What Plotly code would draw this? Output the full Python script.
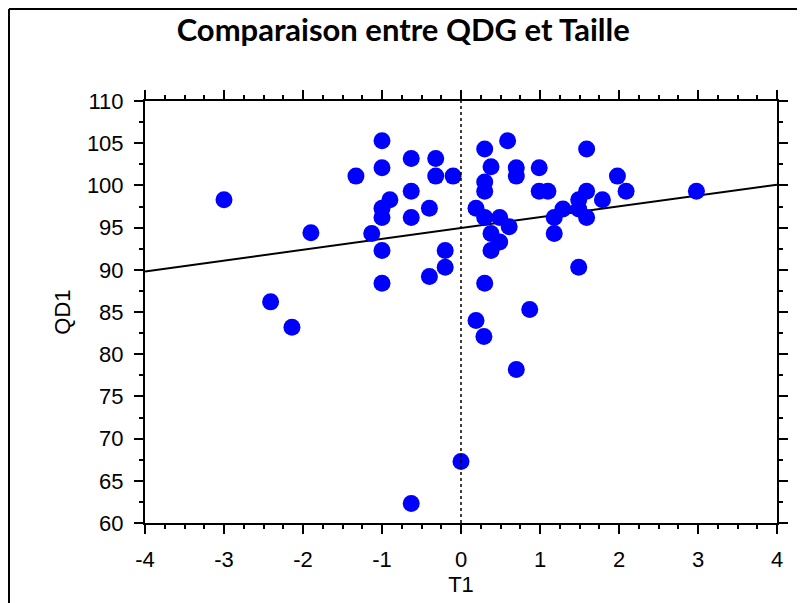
import numpy as np
import plotly.graph_objects as go

T1 = [-3.0, -2.41, -2.14, -1.9, -1.33, -1.13,
      -1.0, -1.0, -1.0, -1.0, -1.0, -1.0,
      -0.9, -0.63, -0.63, -0.63, -0.63,
      -0.4, -0.4, -0.32, -0.32, -0.2, -0.2, -0.1, 0.0,
      0.19, 0.19, 0.29, 0.30, 0.30, 0.30, 0.30, 0.30,
      0.38, 0.38, 0.38, 0.49, 0.49, 0.59, 0.61,
      0.70, 0.70, 0.70, 0.87, 0.99, 0.99, 1.10,
      1.18, 1.18, 1.29, 1.49, 1.49, 1.49,
      1.59, 1.59, 1.59, 1.79, 1.98, 2.09, 2.98]
QD1 = [98.3, 86.2, 83.2, 94.4, 101.1, 94.3,
       105.3, 102.1, 97.3, 96.2, 92.3, 88.4,
       98.3, 103.2, 99.3, 96.2, 62.3,
       97.3, 89.2, 103.2, 101.1, 92.3, 90.3, 101.1, 67.3,
       97.3, 84.0, 82.1, 104.3, 100.4, 99.3, 96.2, 88.4,
       102.2, 94.3, 92.3, 96.2, 93.3, 105.3, 95.1,
       102.1, 101.1, 78.2, 85.3, 102.1, 99.3, 99.3,
       96.2, 94.3, 97.2, 98.3, 97.2, 90.3,
       104.3, 99.3, 96.2, 98.3, 101.1, 99.3, 99.3]

X_RANGE = [-4, 4]
Y_RANGE = [60, 110]
X_TICKS = [-4, -3, -2, -1, 0, 1, 2, 3, 4]
X_TICK_LABELS = ["-4", "-3", "-2", "-1", "0", "1", "2", "3", "4"]
Y_TICKS = [60, 65, 70, 75, 80, 85, 90, 95, 100, 105, 110]
Y_TICK_LABELS = ["60", "65", "70", "75", "80", "85", "90", "95", "100", "105", "110"]

slope, intercept = np.polyfit(T1, QD1, 1)
fit_x = np.array(X_RANGE, dtype=float)
fit_y = intercept + slope * fit_x

fig = go.Figure()
fig.add_trace(go.Scatter(x=fit_x, y=fit_y, mode="lines",
                         line=dict(color="black", width=2), hoverinfo="skip",
                         showlegend=False))
fig.add_trace(go.Scatter(x=T1, y=QD1, mode="markers",
                         marker=dict(color="#0000FF", size=17, line=dict(width=0)),
                         showlegend=False))

fig.add_shape(type="line", xref="x", yref="paper", x0=0, x1=0, y0=0, y1=1,
              line=dict(color="black", width=1.5, dash="dot"))
# outer frame (left and top), drawn at the figure's edge
fig.add_shape(type="line", xref="paper", yref="paper", x0=-0.2152, x1=-0.2152,
              y0=-0.25, y1=1.218, line=dict(color="black", width=2))
fig.add_shape(type="line", xref="paper", yref="paper", x0=-0.2152, x1=1.033,
              y0=1.218, y1=1.218, line=dict(color="black", width=2))

axis_font = dict(family="Liberation Sans", size=22, color="black")
common = dict(showgrid=False, zeroline=False, showline=True, linecolor="black",
              linewidth=2, mirror="ticks", ticks="outside", ticklen=9,
              tickwidth=1.5, tickcolor="black", tickfont=axis_font,
              automargin=False)

fig.update_xaxes(range=X_RANGE, tickmode="array", tickvals=X_TICKS,
                 ticktext=X_TICK_LABELS, ticklabelstandoff=7,
                 minor=dict(dtick=0.25, tick0=-4, ticks="outside", ticklen=4,
                            tickwidth=1.5, tickcolor="black", showgrid=False),
                 title=dict(text="T1", font=axis_font, standoff=4), **common)
fig.update_yaxes(range=Y_RANGE, tickmode="array", tickvals=Y_TICKS,
                 ticktext=Y_TICK_LABELS, ticklabelstandoff=6,
                 minor=dict(dtick=2.5, tick0=60, ticks="outside", ticklen=4,
                            tickwidth=1.5, tickcolor="black", showgrid=False),
                 title=dict(text="QD1", font=axis_font, standoff=10), **common)

fig.update_layout(
    width=805, height=603,
    margin=dict(l=137, r=36, t=93, b=88, autoexpand=False),
    paper_bgcolor="white", plot_bgcolor="white",
    title=dict(text="<b>Comparaison entre QDG et Taille</b>", x=0.491, xanchor="center",
               y=0.964, yanchor="middle",
               font=dict(family="Lato", size=31, color="black")),
)

fig.write_html("out.html")
